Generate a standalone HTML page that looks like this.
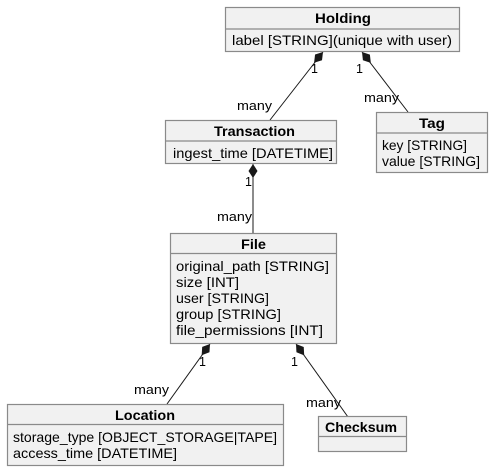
<!DOCTYPE html>
<html><head><style>
html,body{margin:0;padding:0;background:#fff;}
svg{display:block;font-family:"Liberation Sans","DejaVu Sans",sans-serif;}
.b{fill:#f1f1f1;stroke:#8a8a8a;stroke-width:1.2;}
.d{stroke:#8a8a8a;stroke-width:1.2;}
.h{font-weight:bold;font-size:14px;text-anchor:middle;fill:#000;}
.t{font-size:14px;fill:#000;}
.l{font-size:12.5px;fill:#000;}
.c{stroke:#181818;stroke-width:1;}
</style></head><body>
<svg width="494" height="471" viewBox="0 0 494 471">
<defs><path id="dm" d="M0,0 L4.5,7 L0,14 L-4.5,7 Z" fill="#181818"/></defs>

<line class="c" x1="323" y1="52" x2="270" y2="120"/>
<use href="#dm" transform="translate(323,52) rotate(39.6)"/>
<line class="c" x1="362" y1="52" x2="408" y2="112"/>
<use href="#dm" transform="translate(362,52) rotate(-39)"/>
<line class="c" x1="253" y1="164" x2="253" y2="233"/>
<use href="#dm" transform="translate(253,164)"/>
<line class="c" x1="210" y1="344" x2="167" y2="404"/>
<use href="#dm" transform="translate(210,344) rotate(36.6)"/>
<line class="c" x1="296" y1="344" x2="348" y2="417"/>
<use href="#dm" transform="translate(296,344) rotate(-35.8)"/>

<text class="l" x="311" y="73">1</text>
<text class="l" x="356" y="73">1</text>
<text class="l" x="237" y="110" textLength="35" lengthAdjust="spacingAndGlyphs">many</text>
<text class="l" x="364" y="102" textLength="35" lengthAdjust="spacingAndGlyphs">many</text>
<text class="l" x="245" y="186">1</text>
<text class="l" x="217" y="221" textLength="35" lengthAdjust="spacingAndGlyphs">many</text>
<text class="l" x="199" y="366">1</text>
<text class="l" x="291" y="366">1</text>
<text class="l" x="134" y="394" textLength="35" lengthAdjust="spacingAndGlyphs">many</text>
<text class="l" x="306" y="407" textLength="35" lengthAdjust="spacingAndGlyphs">many</text>

<rect class="b" x="225.5" y="7.5" width="234" height="44"/>
<line class="d" x1="225.5" y1="29" x2="459.5" y2="29"/>
<text class="h" x="343" y="23" textLength="56" lengthAdjust="spacingAndGlyphs">Holding</text>
<text class="t" x="232" y="45" textLength="220" lengthAdjust="spacingAndGlyphs">label [STRING](unique with user)</text>

<rect class="b" x="165.5" y="120.5" width="171" height="43"/>
<line class="d" x1="165.5" y1="141" x2="336.5" y2="141"/>
<text class="h" x="254.5" y="136" textLength="81" lengthAdjust="spacingAndGlyphs">Transaction</text>
<text class="t" x="173" y="158" textLength="160" lengthAdjust="spacingAndGlyphs">ingest_time [DATETIME]</text>

<rect class="b" x="376.5" y="112.5" width="111" height="60"/>
<line class="d" x1="376.5" y1="133" x2="487.5" y2="133"/>
<text class="h" x="432" y="128" textLength="26" lengthAdjust="spacingAndGlyphs">Tag</text>
<text class="t" x="382" y="150" textLength="85" lengthAdjust="spacingAndGlyphs">key [STRING]</text>
<text class="t" x="382" y="166" textLength="98" lengthAdjust="spacingAndGlyphs">value [STRING]</text>

<rect class="b" x="170.5" y="233.5" width="166" height="110"/>
<line class="d" x1="170.5" y1="253.5" x2="336.5" y2="253.5"/>
<text class="h" x="253.5" y="249" textLength="25" lengthAdjust="spacingAndGlyphs">File</text>
<text class="t" x="176" y="271" textLength="153" lengthAdjust="spacingAndGlyphs">original_path [STRING]</text>
<text class="t" x="176" y="287" textLength="63" lengthAdjust="spacingAndGlyphs">size [INT]</text>
<text class="t" x="176" y="303" textLength="93" lengthAdjust="spacingAndGlyphs">user [STRING]</text>
<text class="t" x="176" y="319" textLength="105" lengthAdjust="spacingAndGlyphs">group [STRING]</text>
<text class="t" x="176" y="335" textLength="147" lengthAdjust="spacingAndGlyphs">file_permissions [INT]</text>

<rect class="b" x="7.5" y="404.5" width="276" height="61"/>
<line class="d" x1="7.5" y1="424.5" x2="283.5" y2="424.5"/>
<text class="h" x="145" y="420" textLength="60" lengthAdjust="spacingAndGlyphs">Location</text>
<text class="t" x="13" y="442" textLength="264" lengthAdjust="spacingAndGlyphs">storage_type [OBJECT_STORAGE|TAPE]</text>
<text class="t" x="13" y="458" textLength="164" lengthAdjust="spacingAndGlyphs">access_time [DATETIME]</text>

<rect class="b" x="318.5" y="416.5" width="88" height="35"/>
<line class="d" x1="318.5" y1="436.5" x2="406.5" y2="436.5"/>
<text class="h" x="361" y="432" textLength="72" lengthAdjust="spacingAndGlyphs">Checksum</text>
</svg>
</body></html>
